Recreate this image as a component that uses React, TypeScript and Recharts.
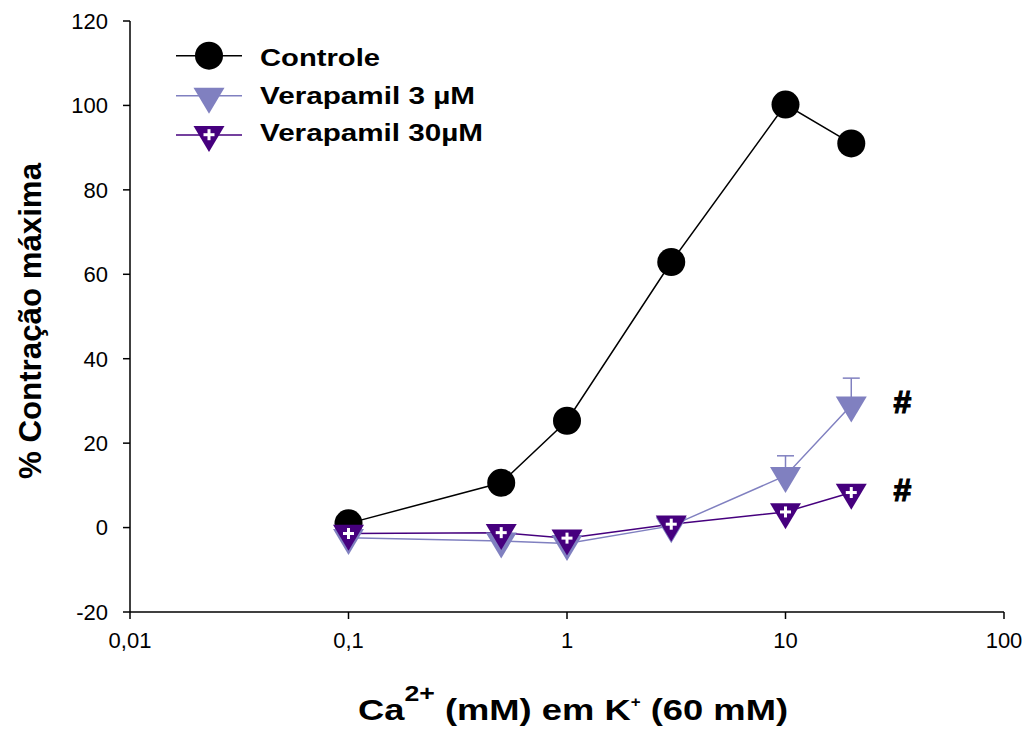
import React from 'react';
import { LineChart, Line, XAxis, YAxis, ErrorBar, LabelList, Legend } from 'recharts';

// Ca2+ concentration (mM), log scale
const X_VALUES = [0.1, 0.5, 1, 3, 10, 20];
// % of maximal contraction
const CONTROLE = [1.0, 10.6, 25.3, 62.9, 100.2, 91.0];
const VERAP3 = [-2.4, -3.2, -3.8, 0.4, 12.3, 29.0];
const VERAP3_SEM = [0, 0, 0, 0, 4.7, 6.4];
const VERAP30 = [-1.4, -1.2, -2.5, 0.8, 3.7, 8.3];

const X_TICKS = [0.01, 0.1, 1, 10, 100];
const Y_TICKS = [-20, 0, 20, 40, 60, 80, 100, 120];
const SERIES_NAMES = ['Controle', 'Verapamil 3 µM', 'Verapamil 30µM'];

const FONT = '"Liberation Sans", Arial, sans-serif';
const C_CTRL = '#000000';
const C_V3 = '#8080c0';
const C_V30 = '#46007e';

const controleData = X_VALUES.map((x, i) => ({ x, y: CONTROLE[i] }));
const verap3Data = X_VALUES.map((x, i) => ({ x, y: VERAP3[i], err: [0, VERAP3_SEM[i]] }));
const verap30Data = X_VALUES.map((x, i) => ({ x, y: VERAP30[i] }));

const TRI_W = 31;
const TRI_H = 26;

// down-pointing triangle centred on its centroid
const triPoints = (cx: number, cy: number) =>
  `${cx - TRI_W / 2},${cy - TRI_H / 3} ${cx + TRI_W / 2},${cy - TRI_H / 3} ${cx},${cy + (2 * TRI_H) / 3}`;

const Circle = ({ cx, cy }: { cx: number; cy: number }) => <circle cx={cx} cy={cy} r={14} fill={C_CTRL} />;

const Tri = ({ cx, cy }: { cx: number; cy: number }) => <polygon points={triPoints(cx, cy)} fill={C_V3} />;

const TriCross = ({ cx, cy }: { cx: number; cy: number }) => (
  <g>
    <polygon points={triPoints(cx, cy)} fill={C_V30} />
    <line x1={cx - 5.5} y1={cy} x2={cx + 5.5} y2={cy} stroke="#fff" strokeWidth={3} />
    <line x1={cx} y1={cy - 5.5} x2={cx} y2={cy + 5.5} stroke="#fff" strokeWidth={3} />
  </g>
);

// "#" significance mark next to the last point of a series
const hashLabel = (last: number) => (props: any) => {
  if (props.index !== last) return null;
  return (
    <text
      key={`hash-${props.index}`}
      x={Number(props.x) + 51}
      y={Number(props.y) - 3}
      textAnchor="middle"
      dominantBaseline="central"
      fontFamily={FONT}
      fontSize={32}
      fill="#000"
      stroke="#000"
      strokeWidth={1.2}
      style={{ fontWeight: 'bold' }}
    >
      #
    </text>
  );
};

const renderLegend = () => (
  <svg width={500} height={160} style={{ display: 'block' }}>
    <g>
      <line x1={176} y1={55.7} x2={242} y2={55.7} stroke={C_CTRL} strokeWidth={1.5} />
      <Circle cx={209} cy={55.7} />
      <text x={260} y={66} fontFamily={FONT} fontWeight="bold" fontSize={24} textLength={120} lengthAdjust="spacingAndGlyphs">
        {SERIES_NAMES[0]}
      </text>
    </g>
    <g>
      <line x1={176} y1={95.7} x2={242} y2={95.7} stroke={C_V3} strokeWidth={1.5} />
      <Tri cx={209} cy={96.4} />
      <text x={260} y={104} fontFamily={FONT} fontWeight="bold" fontSize={24} textLength={215} lengthAdjust="spacingAndGlyphs">
        {SERIES_NAMES[1]}
      </text>
    </g>
    <g>
      <line x1={176} y1={135} x2={242} y2={135} stroke={C_V30} strokeWidth={1.5} />
      <TriCross cx={209} cy={134.7} />
      <text x={260} y={141} fontFamily={FONT} fontWeight="bold" fontSize={24} textLength={223} lengthAdjust="spacingAndGlyphs">
        {SERIES_NAMES[2]}
      </text>
    </g>
  </svg>
);

const YTitle = () => (
  <text
    transform="translate(41, 321) rotate(-90)"
    textAnchor="middle"
    fontFamily={FONT}
    fontWeight="bold"
    fontSize={31}
    textLength={316}
    lengthAdjust="spacingAndGlyphs"
    fill="#000"
  >
    % Contração máxima
  </text>
);

const XTitle = () => (
  <text x={358} y={720} fontFamily={FONT} fontWeight="bold" fontSize={30} textLength={430} lengthAdjust="spacingAndGlyphs" fill="#000">
    Ca
    <tspan fontSize={22} dy={-19}>2+</tspan>
    <tspan dy={19}> (mM) em K</tspan>
    <tspan fontSize={14} dy={-13}>+</tspan>
    <tspan dy={13}> (60 mM)</tspan>
  </text>
);

const tickStyle = { fontFamily: FONT, fontSize: 22, fill: '#000' };

export default function App() {
  return (
    <div style={{ position: 'absolute', left: 0, top: 0, width: 1029, height: 731, background: '#fff' }}>
      <LineChart width={1029} height={731} margin={{ top: 21, right: 25, left: 0, bottom: 0 }}>
        <XAxis
          dataKey="x"
          type="number"
          scale="log"
          domain={[0.01, 100]}
          ticks={X_TICKS}
          allowDataOverflow
          height={119}
          stroke="#000"
          strokeWidth={1.5}
          tickSize={7}
          tickMargin={13}
          tick={tickStyle}
          tickFormatter={(v: number) => String(v).replace('.', ',')}
          label={{ content: () => <XTitle /> }}
        />
        <YAxis
          type="number"
          domain={[-20, 120]}
          ticks={Y_TICKS}
          allowDataOverflow
          width={130}
          stroke="#000"
          strokeWidth={1.5}
          tickSize={7}
          tickMargin={15}
          tick={tickStyle}
          label={{ content: () => <YTitle /> }}
        />
        <Legend
          layout="horizontal"
          verticalAlign="middle"
          align="center"
          content={renderLegend}
          wrapperStyle={{ position: 'absolute', left: 0, top: 0, width: 500, height: 160 }}
        />
        <Line
          data={controleData}
          dataKey="y"
          name={SERIES_NAMES[0]}
          stroke={C_CTRL}
          strokeWidth={1.5}
          isAnimationActive={false}
          activeDot={false}
          dot={(p: any) => <Circle key={`c-${p.index}`} cx={p.cx} cy={p.cy} />}
        />
        <Line
          data={verap3Data}
          dataKey="y"
          name={SERIES_NAMES[1]}
          stroke={C_V3}
          strokeWidth={1.5}
          isAnimationActive={false}
          activeDot={false}
          dot={(p: any) => <Tri key={`t-${p.index}`} cx={p.cx} cy={p.cy} />}
        >
          <ErrorBar dataKey="err" direction="y" width={8.5} stroke={C_V3} strokeWidth={1.5} isAnimationActive={false} />
          <LabelList dataKey="y" content={hashLabel(X_VALUES.length - 1)} />
        </Line>
        <Line
          data={verap30Data}
          dataKey="y"
          name={SERIES_NAMES[2]}
          stroke={C_V30}
          strokeWidth={1.5}
          isAnimationActive={false}
          activeDot={false}
          dot={(p: any) => <TriCross key={`x-${p.index}`} cx={p.cx} cy={p.cy} />}
        >
          <LabelList dataKey="y" content={hashLabel(X_VALUES.length - 1)} />
        </Line>
      </LineChart>
    </div>
  );
}
